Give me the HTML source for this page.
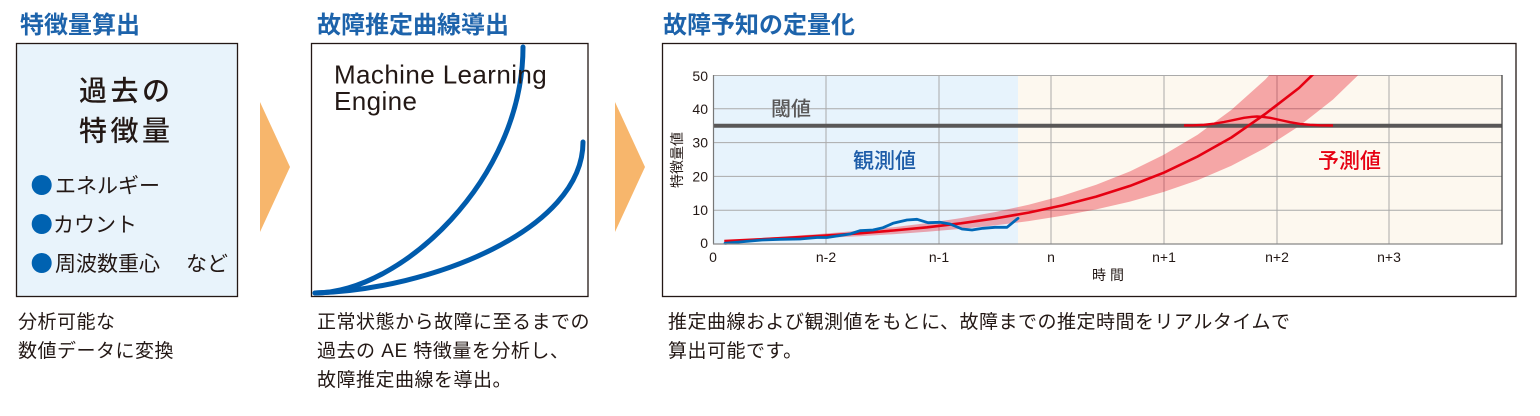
<!DOCTYPE html>
<html><head><meta charset="utf-8"><style>
html,body{margin:0;padding:0;background:#fff;}
svg{display:block;}
text{font-family:"Liberation Sans","Noto Sans CJK JP",sans-serif;}
.ttl{font-size:24px;font-weight:bold;fill:#1d63ab;}
.cap{font-size:19px;letter-spacing:0.5px;fill:#231815;}
.ax{font-size:14px;fill:#231815;}
</style></head><body>
<svg width="1540" height="416" viewBox="0 0 1540 416" xmlns="http://www.w3.org/2000/svg">
<defs>
<clipPath id="pc"><rect x="713" y="75" width="789" height="169"/></clipPath>
</defs>

<!-- Titles -->
<text class="ttl" x="20" y="33">特徴量算出</text>
<text class="ttl" x="317" y="33">故障推定曲線導出</text>
<text class="ttl" x="663" y="33">故障予知の定量化</text>

<!-- Panel 1 -->
<rect x="16.5" y="43.5" width="221" height="253" fill="#e8f3fb" stroke="#231815" stroke-width="1.3"/>
<text x="79" y="100.6" style="font-size:28px;letter-spacing:3.5px;font-weight:500;" fill="#231815">過去の</text>
<text x="79" y="140.6" style="font-size:28px;letter-spacing:3.5px;font-weight:500;" fill="#231815">特徴量</text>
<circle cx="41.7" cy="185" r="10" fill="#0062b1"/>
<circle cx="41.7" cy="224" r="10" fill="#0062b1"/>
<circle cx="41.7" cy="263" r="10" fill="#0062b1"/>
<text x="55" y="193" style="font-size:21px;" fill="#231815">エネルギー</text>
<text x="53" y="232" style="font-size:21px;" fill="#231815">カウント</text>
<text x="55" y="271" style="font-size:21px;" fill="#231815">周波数重心</text>
<text x="186" y="271" style="font-size:21px;" fill="#231815">など</text>
<text class="cap" x="18" y="328.2">分析可能な</text>
<text class="cap" x="18" y="357.2">数値データに変換</text>

<!-- Arrows -->
<polygon points="260,102 290,167 260,232" fill="#f7b66c"/>
<polygon points="615,102 645,167 615,232" fill="#f7b66c"/>

<!-- Panel 2 -->
<rect x="311.5" y="43.5" width="276.5" height="253" fill="#fff" stroke="#231815" stroke-width="1.3"/>
<path d="M315,293 C400,293 523,180 523,47" fill="none" stroke="#005bac" stroke-width="5" stroke-linecap="round"/>
<path d="M315,293 C430,290 583,230 583,142" fill="none" stroke="#005bac" stroke-width="5" stroke-linecap="round"/>
<text x="334" y="83.3" style="font-size:26px;letter-spacing:0.4px;" fill="#231815">Machine Learning</text>
<text x="334" y="110" style="font-size:26px;letter-spacing:0.4px;" fill="#231815">Engine</text>
<text class="cap" x="317" y="328.2">正常状態から故障に至るまでの</text>
<text class="cap" x="317" y="357.2">過去の AE 特徴量を分析し、</text>
<text class="cap" x="317" y="386.2">故障推定曲線を導出。</text>

<!-- Panel 3 -->
<rect x="662.5" y="43.5" width="853.5" height="253" fill="#fff" stroke="#231815" stroke-width="1.3"/>
<rect x="713" y="75" width="305" height="169" fill="#e7f3fc"/>
<rect x="1018" y="75" width="484" height="169" fill="#fdf8ef"/>

<!-- grid -->
<g stroke="#aaaaaa" stroke-width="1">
<line x1="713" y1="210.2" x2="1502" y2="210.2"/>
<line x1="713" y1="176.4" x2="1502" y2="176.4"/>
<line x1="713" y1="142.6" x2="1502" y2="142.6"/>
<line x1="713" y1="108.8" x2="1502" y2="108.8"/>
<line x1="713" y1="75.5" x2="1502" y2="75.5"/>
<line x1="826" y1="75" x2="826" y2="244"/>
<line x1="939" y1="75" x2="939" y2="244"/>
<line x1="1051" y1="75" x2="1051" y2="244"/>
<line x1="1164" y1="75" x2="1164" y2="244"/>
<line x1="1277" y1="75" x2="1277" y2="244"/>
<line x1="1389" y1="75" x2="1389" y2="244"/>
</g>

<g clip-path="url(#pc)">
<!-- band -->
<polygon fill="#e60012" fill-opacity="0.33" points="
724.3,240.4 758.1,238.3 791.9,236.0 825.7,233.5 859.5,230.6 893.3,227.2 927.1,223.1 960.9,218.1 994.8,212.1 1028.6,204.8 1062.4,195.8 1096.2,184.8 1130.0,171.4 1163.8,154.8 1197.6,134.7 1231.4,109.9 1265.2,79.6 1299.0,42.4 1332.9,20 1400,20
1400,20 1366.7,66.9 1332.9,99.6 1299.0,126.2 1265.2,148.0 1231.4,165.7 1197.6,180.2 1163.8,191.9 1130.0,201.6 1096.2,209.4 1062.4,215.8 1028.6,221.1 994.8,225.4 960.9,228.9 927.1,231.8 893.3,234.2 859.5,236.2 825.7,237.9 791.9,239.3 758.1,240.7 724.3,241.9"/>
</g>

<!-- threshold -->
<line x1="713" y1="125.7" x2="1502" y2="125.7" stroke="#595757" stroke-width="4"/>

<g clip-path="url(#pc)">
<!-- red curve -->
<polyline fill="none" stroke="#e60012" stroke-width="2.6" stroke-linejoin="round" points="724.3,241.1 758.1,239.4 791.9,237.6 825.7,235.6 859.5,233.3 893.3,230.5 927.1,227.3 960.9,223.3 994.8,218.5 1028.6,212.6 1062.4,205.4 1096.2,196.6 1130.0,185.9 1163.8,172.7 1197.6,156.5 1231.4,137.5 1265.2,114 1299.0,88 1332.9,55"/>
</g>

<!-- gaussian -->
<polyline fill="none" stroke="#e60012" stroke-width="2.4" stroke-linejoin="round" points="1184,125.4 1194,125.3 1204,124.8 1214,123.7 1224,122.0 1234,119.9 1244,117.8 1252,116.8 1257,116.5 1262,116.8 1270,117.8 1280,120.0 1290,122.2 1300,123.9 1310,124.8 1320,125.3 1333,125.5"/>

<!-- observed blue -->
<polyline fill="none" stroke="#0068b7" stroke-width="2.8" stroke-linejoin="round" stroke-linecap="round" points="725,243.3 745,241.5 762,240 780,239.3 800,239 817,237.5 827,237.5 850,234 860,230.7 873,230 883,227.7 893,223.3 907,220 917,219.3 928,222.7 940,222.3 950,224 962,229 972,230 983,228.3 995,227.3 1007,227.3 1018,218.3"/>

<!-- axes -->
<line x1="713.5" y1="75" x2="713.5" y2="244" stroke="#777" stroke-width="1.2"/>
<line x1="713" y1="244" x2="1502" y2="244" stroke="#888" stroke-width="1.3"/>
<line x1="1502" y1="75" x2="1502" y2="244.5" stroke="#444" stroke-width="1.3"/>

<!-- labels -->
<text x="771" y="115.6" style="font-size:20px;font-weight:500;" fill="#595757">閾値</text>
<text x="853" y="168" style="font-size:21px;font-weight:500;" fill="#1d5ca8">観測値</text>
<text x="1318" y="168" style="font-size:21px;font-weight:500;" fill="#e60012">予測値</text>

<g class="ax" text-anchor="end">
<text class="ax" x="708" y="81">50</text>
<text class="ax" x="708" y="114">40</text>
<text class="ax" x="708" y="147.6">30</text>
<text class="ax" x="708" y="181.4">20</text>
<text class="ax" x="708" y="215.2">10</text>
<text class="ax" x="708" y="248">0</text>
</g>
<g text-anchor="middle">
<text class="ax" x="713" y="262">0</text>
<text class="ax" x="826" y="262">n-2</text>
<text class="ax" x="939" y="262">n-1</text>
<text class="ax" x="1051" y="262">n</text>
<text class="ax" x="1164" y="262">n+1</text>
<text class="ax" x="1277" y="262">n+2</text>
<text class="ax" x="1389" y="262">n+3</text>
</g>
<text class="ax" x="1092" y="280" style="letter-spacing:4px;">時間</text>
<text class="ax" x="0" y="0" text-anchor="middle" transform="translate(682,160) rotate(-90)">特徴量値</text>

<text class="cap" x="668" y="328.2">推定曲線および観測値をもとに、故障までの推定時間をリアルタイムで</text>
<text class="cap" x="668" y="357.2">算出可能です。</text>
</svg>
</body></html>
